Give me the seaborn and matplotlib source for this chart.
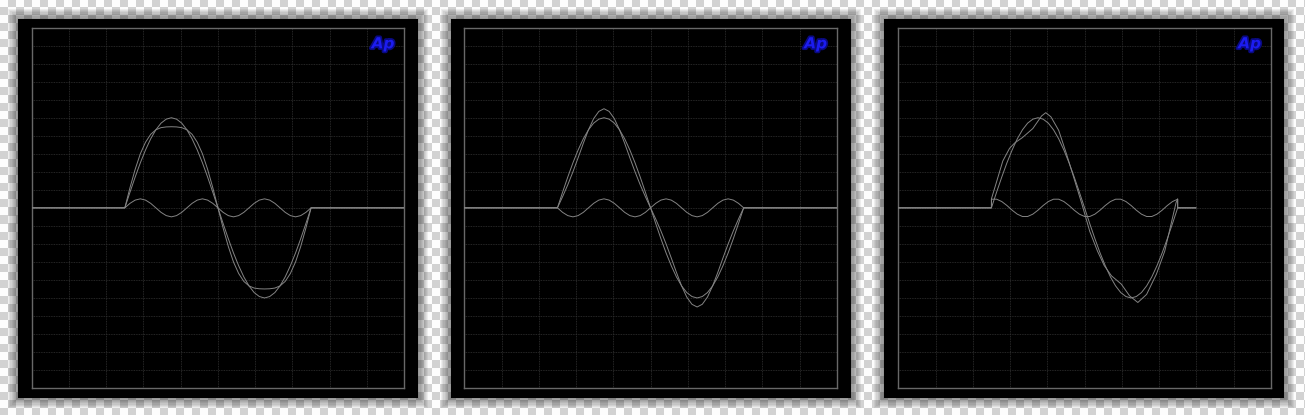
import numpy as np
import pandas as pd
import seaborn as sns
import matplotlib
matplotlib.use("Agg")
import matplotlib.pyplot as plt
from matplotlib.patches import Rectangle
import matplotlib.patheffects as pe

# phase of the test tone in degrees, one period per sweep
deg = list(range(0, 361, 10))

sine = [0, 0.87, 1.71, 2.5, 3.21, 3.83, 4.33, 4.7, 4.92, 5.0, 4.92, 4.7, 4.33, 3.83, 3.21, 2.5, 1.71, 0.87, 0,
        -0.87, -1.71, -2.5, -3.21, -3.83, -4.33, -4.7, -4.92, -5.0, -4.92, -4.7, -4.33, -3.83, -3.21, -2.5, -1.71, -0.87, 0]

# panel 1: flattened peaks
flat = [0, 1.12, 2.14, 3.0, 3.64, 4.08, 4.33, 4.45, 4.49, 4.5, 4.49, 4.45, 4.33, 4.08, 3.64, 3.0, 2.14, 1.12, 0,
        -1.12, -2.14, -3.0, -3.64, -4.08, -4.33, -4.45, -4.49, -4.5, -4.49, -4.45, -4.33, -4.08, -3.64, -3.0, -2.14, -1.12, 0]
resid_flat = [0, 0.25, 0.43, 0.5, 0.43, 0.25, 0, -0.25, -0.43, -0.5, -0.43, -0.25, 0, 0.25, 0.43, 0.5, 0.43, 0.25, 0,
              -0.25, -0.43, -0.5, -0.43, -0.25, 0, 0.25, 0.43, 0.5, 0.43, 0.25, 0, -0.25, -0.43, -0.5, -0.43, -0.25, 0]

# panel 2: sharpened peaks
peaked = [0, 0.62, 1.28, 2.0, 2.78, 3.58, 4.33, 4.95, 5.35, 5.5, 5.35, 4.95, 4.33, 3.58, 2.78, 2.0, 1.28, 0.62, 0,
          -0.62, -1.28, -2.0, -2.78, -3.58, -4.33, -4.95, -5.35, -5.5, -5.35, -4.95, -4.33, -3.58, -2.78, -2.0, -1.28, -0.62, 0]
resid_peak = [0, -0.25, -0.43, -0.5, -0.43, -0.25, 0, 0.25, 0.43, 0.5, 0.43, 0.25, 0, -0.25, -0.43, -0.5, -0.43, -0.25, 0,
              0.25, 0.43, 0.5, 0.43, 0.25, 0, -0.25, -0.43, -0.5, -0.43, -0.25, 0, 0.25, 0.43, 0.5, 0.43, 0.25, 0]

# panel 3: skewed / kinked waveform
deg_skew = [0, 10, 22, 35, 45, 60, 80, 97, 105, 115, 130, 145, 160, 175, 190, 205, 218, 232, 251, 267, 283, 300,
            319, 335, 348, 357, 360]
skewed = [0.5, 1.45, 2.6, 3.3, 3.6, 3.9, 4.4, 5.1, 5.28, 5.05, 4.3, 3.0, 1.6, 0.2, -1.3, -2.4, -3.2, -3.77, -4.23,
          -4.88, -5.25, -4.8, -3.67, -2.4, -0.8, 0.3, 0.5]
resid_skew = [0.48, 0.48, 0.35, 0.13, -0.13, -0.35, -0.48, -0.48, -0.35, -0.13, 0.13, 0.35,
              0.48, 0.48, 0.35, 0.13, -0.13, -0.35, -0.48, -0.48, -0.35, -0.13, 0.13, 0.35,
              0.48, 0.48, 0.35, 0.13, -0.13, -0.35, -0.48, -0.48, -0.35, -0.13, 0.13, 0.35, 0.48]

lead_in = -180
tail_end = [540, 540, 395]


def trace(name, x, y, end):
    xs = [lead_in, 0] + list(x) + [360, end]
    ys = [0, 0] + list(y) + [0, 0]
    return pd.DataFrame({"deg": xs, "val": ys, "trace": name})


panels = [
    [("sine", deg, sine), ("dist", deg, flat), ("resid", deg, resid_flat)],
    [("sine", deg, sine), ("dist", deg, peaked), ("resid", deg, resid_peak)],
    [("sine", deg, sine), ("dist", deg_skew, skewed), ("resid", deg, resid_skew)],
]

W, H = 1305, 415
fig = plt.figure(figsize=(W / 100, H / 100), dpi=100)

# transparent-look checkerboard background
bg = fig.add_axes([0, 0, 1, 1], zorder=0)
sq = 8
ny, nx = H // sq + 1, W // sq + 1
checks = (np.add.outer(np.arange(ny), np.arange(nx)) % 2).astype(float)
bg.imshow(checks, cmap=matplotlib.colors.ListedColormap(["#fdfdfd", "#d2d2d2"]),
          extent=[0, nx * sq, ny * sq, 0], interpolation="bilinear")
bg.set_xlim(0, W)
bg.set_ylim(H, 0)
bg.axis("off")

frame_x = [18, 451, 884]
frame_y, frame_w, frame_h = 19, 400, 379
plot_x = [31.7, 464.3, 898.3]
plot_y, plot_w, plot_h = 27.6, 372.5, 360.5

for fx in frame_x:
    for i in range(1, 9):
        bg.add_patch(Rectangle((fx - i * 1.3, frame_y - i * 1.3), frame_w + i * 2.6, frame_h + i * 2.6,
                               facecolor="black", edgecolor="none", alpha=0.06))
    bg.add_patch(Rectangle((fx, frame_y), frame_w, frame_h, facecolor="black", edgecolor="none"))

for k, curves in enumerate(panels):
    ax = fig.add_axes([plot_x[k] / W, 1 - (plot_y + plot_h) / H, plot_w / W, plot_h / H], zorder=2)
    ax.set_facecolor("black")
    df = pd.concat([trace(n, x, y, tail_end[k]) for n, x, y in curves], ignore_index=True)
    sns.lineplot(data=df, x="deg", y="val", units="trace", estimator=None, sort=False,
                 color="#848484", linewidth=0.7, ax=ax, zorder=3)
    ax.set_xlim(-180, 540)
    ax.set_ylim(-10, 10)
    ax.set_xticks(np.arange(-180, 541, 72))
    ax.set_yticks(np.arange(-10, 11, 1))
    ax.tick_params(length=0, labelbottom=False, labelleft=False)
    ax.grid(True, color="#333333", linestyle=(0, (1, 1)), linewidth=0.6)
    ax.set_axisbelow(True)
    ax.set_xlabel("")
    ax.set_ylabel("")
    for s in ax.spines.values():
        s.set_color("#686868")
        s.set_linewidth(1.0)
    ax.text(0.943, 0.955, "Ap", transform=ax.transAxes, ha="center", va="center",
            color="#1c1cf0", fontsize=11, fontweight="bold", fontstyle="italic",
            path_effects=[pe.withStroke(linewidth=2.5, foreground="#0a0a80")])

fig.savefig("out.png", dpi=100)
